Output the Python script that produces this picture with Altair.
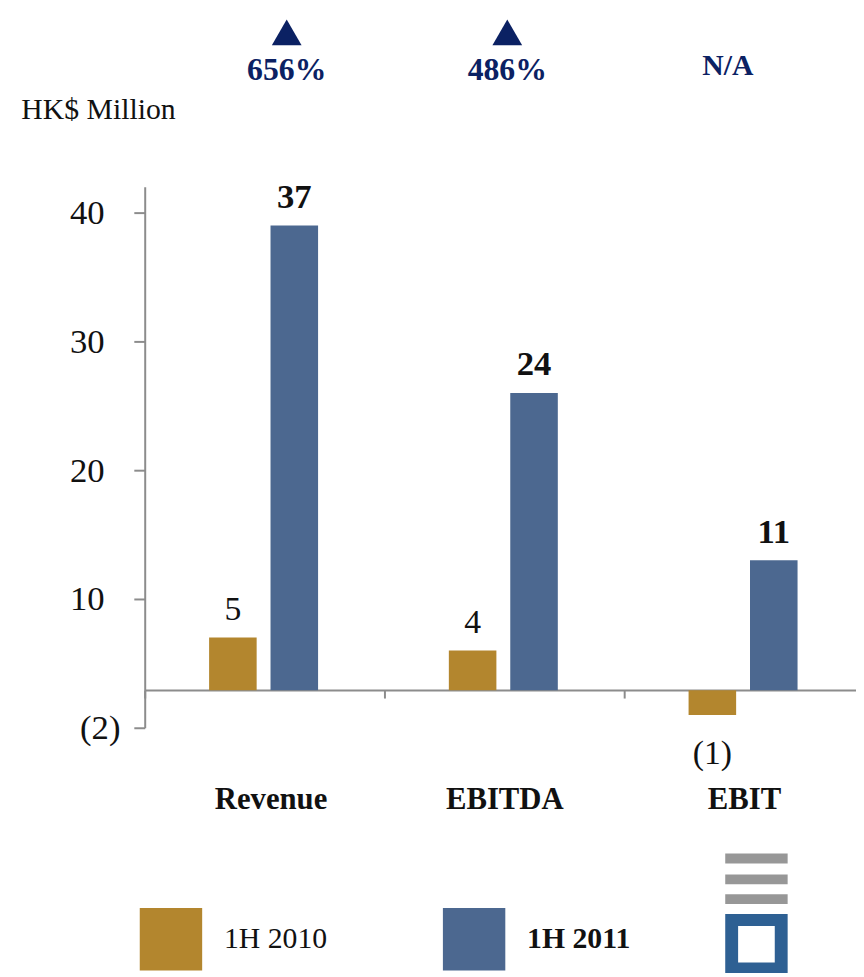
import altair as alt
import pandas as pd

# ---------------- data ----------------
metrics = ["Revenue", "EBITDA", "EBIT"]
periods = ["1H 2010", "1H 2011"]
values_1h2010 = [5, 4, -1]
values_1h2011 = [37, 24, 11]
growth_labels = ["656%", "486%", "N/A"]
growth_up = [True, True, False]
y_tick_values = [-2, 8, 18, 28, 38]
y_tick_labels = ["(2)", "10", "20", "30", "40"]

# the drawn zero line sits slightly above the scale's 0 in the original slide
ZERO_LINE = 0.92

GOLD = "#B3862E"
BLUE = "#4C6890"
NAVY = "#0B2163"
AXIS_GREY = "#8C8C8C"
LOGO_BLUE = "#2E6093"
LOGO_GREY = "#979797"
FONT = "Liberation Serif"
TXT = "#111111"

rows = []
for m, a, b in zip(metrics, values_1h2010, values_1h2011):
    rows.append({"metric": m, "period": periods[0], "value": a})
    rows.append({"metric": m, "period": periods[1], "value": b})
df = pd.DataFrame(rows)
ann = pd.DataFrame({"metric": metrics, "growth": growth_labels, "up": growth_up})

label_expr = " : ".join(
    f"datum.value == {v} ? '{l}'" for v, l in zip(y_tick_values, y_tick_labels)
) + " : ''"

x_enc = alt.X(
    "metric:N",
    scale=alt.Scale(domain=metrics, range=[0, 726], paddingInner=0, paddingOuter=0),
    axis=alt.Axis(
        title=None, orient="bottom", offset=-38,
        domainColor=AXIS_GREY, domainWidth=2,
        tickColor=AXIS_GREY, tickWidth=2, tickSize=8, tickBand="extent",
        labelFont=FONT, labelFontSize=31, labelFontWeight="bold", labelColor=TXT,
        labelAngle=0, labelBaseline="alphabetic", labelPadding=112,
        labelOffset={"condition": {"test": "datum.value == 'Revenue'", "value": 6}, "value": 0},
    ),
)
xoff_enc = alt.XOffset(
    "period:N",
    scale=alt.Scale(domain=periods, range=[65, 175], paddingInner=14 / 62, paddingOuter=0),
)
y_enc = alt.Y(
    "value:Q",
    scale=alt.Scale(domain=[-2, 40], nice=False, zero=False),
    axis=alt.Axis(
        values=y_tick_values, labelExpr=label_expr, grid=False,
        title="HK$ Million", titleAngle=0, titleX=-125, titleY=-69,
        titleAlign="left", titleBaseline="alphabetic",
        titleFont=FONT, titleFontSize=30, titleFontWeight="normal", titleColor=TXT,
        labelFont=FONT, labelFontSize=35, labelColor=TXT,
        labelPadding={"condition": {"test": "datum.value < 0", "value": 14}, "value": 30},
        tickSize=11, tickColor=AXIS_GREY, tickWidth=2,
        domainColor=AXIS_GREY, domainWidth=2,
    ),
)

base = alt.Chart(df).transform_calculate(
    label="datum.value < 0 ? '(' + abs(datum.value) + ')' : '' + datum.value"
)

bars = base.mark_bar().encode(
    x=x_enc,
    xOffset=xoff_enc,
    y=y_enc,
    y2=alt.datum(ZERO_LINE),
    color=alt.Color(
        "period:N",
        scale=alt.Scale(domain=periods, range=[GOLD, BLUE]),
        legend=alt.Legend(
            title=None, orient="none", legendX=-5, legendY=728,
            direction="horizontal", symbolType="square", symbolSize=3969,
            symbolStrokeWidth=0, symbolOpacity=1,
            labelFont=FONT, labelFontSize=30, labelColor=TXT, labelOffset=22,
            columnPadding=116,
            labelFontWeight={"expr": "datum.label == '1H 2011' ? 'bold' : 'normal'"},
        ),
    ),
)

lab_2010 = base.transform_filter(
    f"datum.period == '{periods[0]}' && datum.value >= 0"
).mark_text(font=FONT, fontSize=34, color=TXT, baseline="alphabetic", dy=-18).encode(
    x=x_enc, xOffset=xoff_enc, y=y_enc, text="label:N"
)
lab_2011 = base.transform_filter(
    f"datum.period == '{periods[1]}' && datum.value >= 0"
).mark_text(font=FONT, fontSize=35, fontWeight="bold", color=TXT, baseline="alphabetic", dy=-18).encode(
    x=x_enc, xOffset=xoff_enc, y=y_enc, text="label:N"
)
lab_neg = base.transform_filter("datum.value < 0").mark_text(
    font=FONT, fontSize=34, color=TXT, baseline="alphabetic", dy=50
).encode(x=x_enc, xOffset=xoff_enc, y=y_enc, text="label:N")

main = alt.layer(bars, lab_2010, lab_2011, lab_neg)

# growth annotations above the chart
ann_x = alt.X(
    "metric:N",
    scale=alt.Scale(domain=metrics, range=[32, 700], paddingInner=0, paddingOuter=0),
    axis=None,
)
tri = alt.Chart(ann).transform_filter("datum.up").mark_point(
    shape="triangle-up", filled=True, size=900, color=NAVY, opacity=1
).encode(x=ann_x, y=alt.value(-156))
pct = alt.Chart(ann).transform_filter("datum.up").mark_text(
    font=FONT, fontSize=32, fontWeight="bold", color=NAVY, baseline="alphabetic"
).encode(x=ann_x, y=alt.value(-108), text="growth:N")
na = alt.Chart(ann).transform_filter("!datum.up").mark_text(
    font=FONT, fontSize=30, fontWeight="bold", color=NAVY, baseline="alphabetic"
).encode(x=ann_x, y=alt.value(-113), text="growth:N")

# decorative logo (bottom right)
one = alt.Data(values=[{"k": 1}])
logo_parts = []
for y0 in (673, 694, 714):
    logo_parts.append(
        alt.Chart(one).mark_rect(color=LOGO_GREY).encode(
            x=alt.value(586), x2=alt.value(649), y=alt.value(y0), y2=alt.value(y0 + 10)
        )
    )
logo_parts.append(
    alt.Chart(one).mark_rect(color=LOGO_BLUE).encode(
        x=alt.value(586), x2=alt.value(649), y=alt.value(734), y2=alt.value(800)
    )
)
logo_parts.append(
    alt.Chart(one).mark_rect(color="white").encode(
        x=alt.value(599), x2=alt.value(636), y=alt.value(746), y2=alt.value(783)
    )
)

annot = alt.layer(tri, pct, na, *logo_parts)

chart = (
    alt.layer(main, annot)
    .resolve_scale(x="independent")
    .properties(
        width=718,
        height=546,
        padding={"left": 138, "top": 176, "right": 0, "bottom": 243},
        autosize=alt.AutoSizeParams(type="none"),
    )
    .configure_view(stroke=None)
)

chart.save("out.html", embed_options={"renderer": "svg", "actions": False})
